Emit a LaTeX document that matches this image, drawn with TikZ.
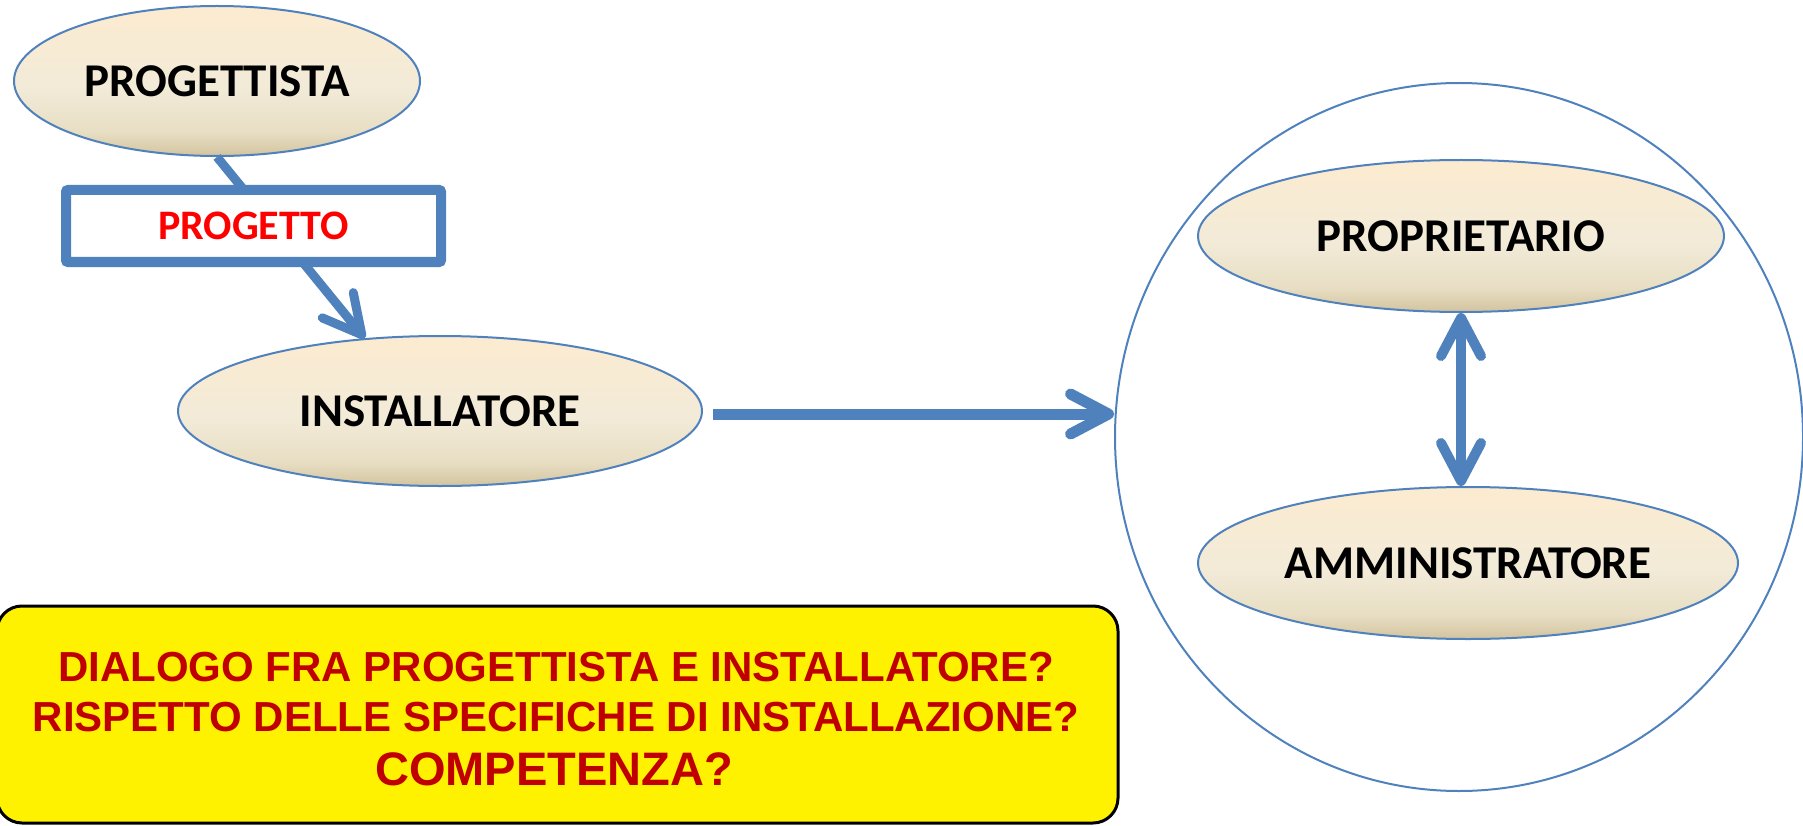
\documentclass[tikz,border=0pt]{standalone}
\usepackage{fontspec}
\newfontfamily\carlito{Carlito}
\newfontfamily\libsans{Liberation Sans}
\usetikzlibrary{shapes.geometric,arrows.meta}
\definecolor{obl}{HTML}{4F81BD}
\definecolor{dred}{HTML}{C00000}
\definecolor{etop}{HTML}{FCEBD0}
\definecolor{emid}{HTML}{F2EBD8}
\definecolor{elow}{HTML}{E8DEC4}
\definecolor{ebot}{HTML}{D3C49F}
\pgfdeclareverticalshading{roleshade}{100bp}{color(0bp)=(ebot); color(25bp)=(ebot); color(33bp)=(elow); color(48bp)=(emid); color(75bp)=(etop); color(100bp)=(etop)}
\begin{document}
\begin{tikzpicture}[x=1pt,y=-1pt,
  role/.style={ellipse, draw=obl, line width=2pt, shading=roleshade,
    inner sep=0pt, text=black, font=\carlito\bfseries\fontsize{47}{56}\selectfont},
  conn/.style={draw=obl, line width=9pt},
  barbtip/.style={-{Straight Barb[length=38pt,width=40pt,round]}},
  bothbarb/.style={{Straight Barb[length=38pt,width=40pt,round]}-{Straight Barb[length=38pt,width=40pt,round]}},
  qline/.style={anchor=base, inner sep=0pt, text=dred, font=\libsans\bfseries\fontsize{42}{50}\selectfont}
]
\useasboundingbox (0,0) rectangle (1803,826);
% nodes
\node[role, minimum width=406pt, minimum height=150pt] (prog) at (217,81) {PROGETTISTA};
\node[role, minimum width=524pt, minimum height=150pt] (inst) at (440,411) {INSTALLATORE};
\node[ellipse, draw=obl, line width=2pt, minimum width=688pt, minimum height=708pt, inner sep=0pt] (circ) at (1459,437) {};
\node[role, minimum width=526pt, minimum height=152pt] (prop) at (1461,236) {PROPRIETARIO};
\node[role, minimum width=540pt, minimum height=152pt] (amm) at (1468,563) {AMMINISTRATORE};
% connectors
\draw[conn, barbtip] (prog.south) -- (inst.136);
\node[draw=obl, line width=10pt, fill=white, rounded corners=2pt, minimum width=375pt, minimum height=72pt,
  text=red, font=\carlito\bfseries\fontsize{42}{50}\selectfont] (pbox) at (253.5,226) {PROGETTO};
\draw[conn, line width=11pt, barbtip, shorten <=10pt] ([yshift=-3pt]inst.east) -- ([yshift=-3pt]inst.east -| circ.west);
\draw[conn, line width=10pt, bothbarb] (prop.south) -- (prop.south |- amm.north);
% question box
\node[draw=black, line width=3pt, fill=yellow, rounded corners=25pt, minimum width=1121pt, minimum height=217pt] (qbox) at (557.5,714.5) {};
\node[qline] (q1) at (556,681) {DIALOGO FRA PROGETTISTA E INSTALLATORE?};
\node[qline] (q2) at (556,731) {RISPETTO DELLE SPECIFICHE DI INSTALLAZIONE?};
\node[qline, font=\libsans\bfseries\fontsize{47}{56}\selectfont] (q3) at (554,785) {COMPETENZA?};
\end{tikzpicture}
\end{document}
